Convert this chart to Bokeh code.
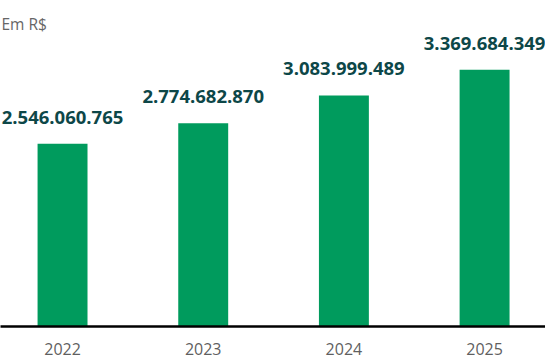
from bokeh.plotting import figure
from bokeh.models import Range1d, FixedTicker, Label, LabelSet, ColumnDataSource
from bokeh.core.properties import value
from bokeh.embed import file_html
from bokeh.resources import INLINE

years = [2022, 2023, 2024, 2025]
year_labels = ["2022", "2023", "2024", "2025"]
values = [2546060765, 2774682870, 3083999489, 3369684349]
value_labels = ["2.546.060.765", "2.774.682.870", "3.083.999.489", "3.369.684.349"]

BAR = "#009b5d"
LABEL = "#0d4748"
GRAY = "#5f5f5f"

y_start, y_end = 514e6, 4140e6
x_start, x_end = 2021.559, 2025.433
p = figure(width=545, height=359, output_backend="svg", toolbar_location=None,
           x_range=Range1d(x_start, x_end), y_range=Range1d(y_start, y_end),
           min_border_left=0, min_border_right=0, min_border_top=0, min_border_bottom=33)
p.outline_line_color = None
p.background_fill_color = "white"
p.border_fill_color = "white"
p.grid.visible = False
p.yaxis.visible = False

src = ColumnDataSource(dict(x=years, top=values, lab=value_labels))
p.vbar(x="x", top="top", bottom=y_start, width=0.355, source=src,
       fill_color=BAR, line_color=None)
p.add_layout(LabelSet(x="x", y="top", text="lab", source=src, text_align="center",
                      text_baseline="alphabetic", y_offset=20,
                      text_font=value("Open Sans"), text_font_style="bold",
                      text_font_size="18.5px", text_color=LABEL))

ax = p.xaxis[0]
ax.ticker = FixedTicker(ticks=years)
ax.major_label_overrides = {y: l for y, l in zip(years, year_labels)}
ax.axis_line_color = "black"
ax.axis_line_width = 2.5
ax.major_tick_line_color = None
ax.minor_tick_line_color = None
ax.major_tick_out = 0
ax.major_label_standoff = 16
ax.major_label_text_font = "Open Sans"
ax.major_label_text_font_size = "16px"
ax.major_label_text_color = GRAY

p.add_layout(Label(x=x_start, y=y_end, x_offset=1, y_offset=-23, text="Em R$",
                   text_baseline="middle", text_font="Open Sans",
                   text_font_size="15.5px", text_color="#666666"))

open("out.html", "w").write(file_html(p, INLINE))
